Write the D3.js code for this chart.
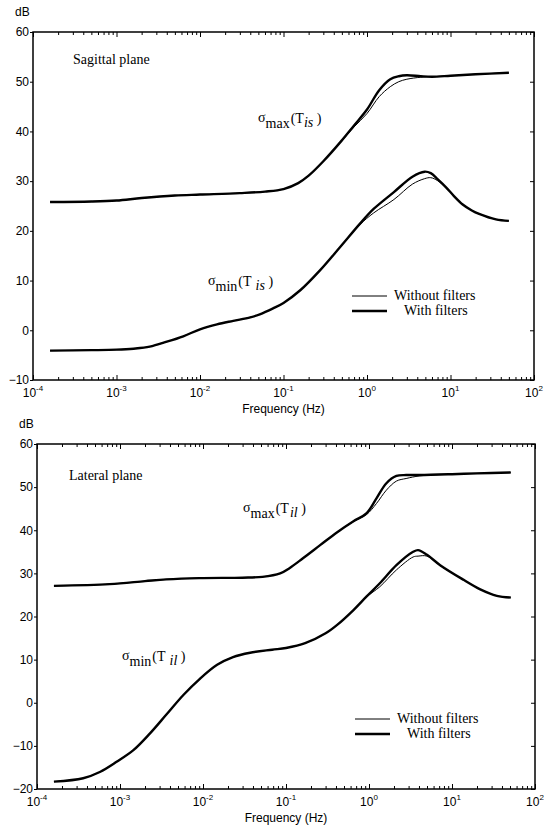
<!DOCTYPE html>
<html>
<head>
<meta charset="utf-8">
<script src="https://d3js.org/d3.v7.min.js"></script>
<style>
body { margin: 0; background: #fff; }
svg { display: block; }
.axis text { font-family: "Liberation Sans", Arial, sans-serif; font-size: 12px; fill: #000; }
.axis path { display: none; }
.axis line { stroke: #000; stroke-width: 1; }
.note { font-family: "Liberation Serif", "Times New Roman", serif; font-size: 14px; }
.sig { font-family: "Liberation Serif", "Times New Roman", serif; font-size: 14px; }
</style>
</head>
<body>
<svg width="544" height="832"></svg>
<script>
// axis values
var decades = [1e-4, 1e-3, 1e-2, 1e-1, 1, 10, 100];
var decadeExp = ["-4", "-3", "-2", "-1", "0", "1", "2"];
var dbTicksSag = [-10, 0, 10, 20, 30, 40, 50, 60];
var dbTicksLat = [-20, -10, 0, 10, 20, 30, 40, 50, 60];

// Sagittal plane, sigma max
var sagMaxFreq    = [1.6e-4, 5e-4, 1e-3, 2e-3, 5e-3, 1e-2, 3e-2, 6e-2, 0.1, 0.15, 0.2, 0.3, 0.5, 0.7, 1.0, 1.4, 1.9, 2.4, 3.0, 4.4, 6.0, 10, 20, 50];
var sagMaxWith    = [25.8, 25.9, 26.1, 26.6, 27.1, 27.3, 27.6, 27.9, 28.4, 29.6, 31.1, 34.0, 38.2, 41.2, 44.4, 48.3, 50.5, 51.1, 51.3, 51.1, 51.0, 51.2, 51.5, 51.8];
var sagMaxWithout = [25.8, 25.9, 26.1, 26.6, 27.1, 27.3, 27.6, 27.9, 28.4, 29.6, 31.1, 34.0, 38.1, 40.9, 43.6, 47.0, 49.0, 50.0, 50.5, 50.9, 51.0, 51.2, 51.5, 51.8];

// Sagittal plane, sigma min
var sagMinFreq    = [1.6e-4, 5e-4, 1e-3, 1.6e-3, 2.5e-3, 4e-3, 6.3e-3, 1e-2, 1.6e-2, 2.5e-2, 4e-2, 5.2e-2, 7.5e-2, 0.1, 0.16, 0.275, 0.48, 0.83, 1.2, 2.1, 3.5, 4.9, 5.8, 7.0, 8.9, 11, 14, 18, 22, 35, 50];
var sagMinWith    = [-4.1, -4.0, -3.9, -3.7, -3.3, -2.3, -1.2, 0.2, 1.2, 1.9, 2.6, 3.2, 4.4, 5.5, 8.1, 12.1, 16.8, 21.5, 24.4, 27.8, 30.9, 31.9, 31.6, 30.4, 28.7, 27.0, 25.3, 24.1, 23.4, 22.3, 22.0];
var sagMinWithout = [-4.1, -4.0, -3.9, -3.7, -3.3, -2.3, -1.2, 0.2, 1.2, 1.9, 2.6, 3.2, 4.4, 5.5, 8.1, 12.1, 16.8, 21.3, 23.6, 26.3, 29.4, 30.5, 30.7, 30.1, 28.6, 27.0, 25.3, 24.1, 23.4, 22.3, 22.0];

// Lateral plane, sigma max
var latMaxFreq    = [1.6e-4, 7.5e-4, 2e-3, 3.6e-3, 9e-3, 3e-2, 5.2e-2, 8.5e-2, 0.11, 0.16, 0.26, 0.41, 0.65, 0.93, 1.23, 1.62, 2.14, 2.8, 4.1, 10, 20, 51];
var latMaxWith    = [27.1, 27.5, 28.2, 28.6, 28.9, 29.0, 29.2, 30.0, 31.2, 33.5, 36.6, 39.5, 42.1, 43.9, 47.4, 50.9, 52.6, 52.8, 52.8, 53.0, 53.2, 53.4];
var latMaxWithout = [27.1, 27.5, 28.2, 28.6, 28.9, 29.0, 29.2, 30.0, 31.2, 33.5, 36.6, 39.5, 42.0, 43.6, 46.2, 49.3, 51.4, 52.0, 52.6, 53.0, 53.2, 53.4];

// Lateral plane, sigma min
var latMinFreq    = [1.6e-4, 3.6e-4, 5.8e-4, 9.1e-4, 1.45e-3, 2.3e-3, 3.6e-3, 5.8e-3, 9.1e-3, 1.48e-2, 2.3e-2, 3.7e-2, 6.8e-2, 0.1, 0.17, 0.3, 0.41, 0.65, 0.93, 1.35, 2.14, 3.4, 3.9, 5.0, 7.2, 13.8, 21.9, 34.7, 51];
var latMinWith    = [-18.3, -17.5, -16.0, -13.7, -11.0, -7.1, -2.8, 1.8, 5.5, 8.8, 10.6, 11.6, 12.3, 12.7, 13.8, 16.1, 18.0, 21.5, 24.6, 27.7, 31.9, 35.0, 35.4, 34.3, 31.9, 28.5, 26.3, 24.8, 24.4];
var latMinWithout = [-18.3, -17.5, -16.0, -13.7, -11.0, -7.1, -2.8, 1.8, 5.5, 8.8, 10.6, 11.6, 12.3, 12.7, 13.8, 16.1, 18.0, 21.4, 24.5, 26.9, 30.8, 33.8, 34.0, 34.0, 31.8, 28.5, 26.3, 24.8, 24.4];

var svg = d3.select("svg");

function panel(p) {
  var x = d3.scaleLog().domain([1e-4, 1e2]).range([p.left, p.right]);
  var y = d3.scaleLinear().domain(p.yDomain).range([p.bottom, p.top]);
  var g = svg.append("g");
  var minor = x.ticks().filter(function (d) { return decades.indexOf(d) < 0; });

  // bottom axis, ticks point inward
  g.append("g").attr("class", "axis").attr("transform", "translate(0," + p.bottom + ")")
    .call(d3.axisBottom(x).tickValues(decades).tickSize(-5).tickFormat(""));
  g.append("g").attr("class", "axis").attr("transform", "translate(0," + p.bottom + ")")
    .call(d3.axisBottom(x).tickValues(minor).tickSize(-3).tickFormat(""));
  // top axis
  g.append("g").attr("class", "axis").attr("transform", "translate(0," + p.top + ")")
    .call(d3.axisTop(x).tickValues(decades).tickSize(-5).tickFormat(""));
  g.append("g").attr("class", "axis").attr("transform", "translate(0," + p.top + ")")
    .call(d3.axisTop(x).tickValues(minor).tickSize(-3).tickFormat(""));
  // left axis with labels
  g.append("g").attr("class", "axis").attr("transform", "translate(" + p.left + ",0)")
    .call(d3.axisLeft(y).tickValues(p.yTicks).tickSize(3).tickPadding(1).tickFormat(d3.format("d")));
  // right axis
  g.append("g").attr("class", "axis").attr("transform", "translate(" + p.right + ",0)")
    .call(d3.axisRight(y).tickValues(p.yTicks).tickSize(-4).tickFormat(""));

  // decade labels 10^n
  decades.forEach(function (d, i) {
    var t = g.append("text").attr("x", x(d)).attr("y", p.bottom + 17)
      .attr("text-anchor", "middle")
      .style("font-family", "Liberation Sans, Arial, sans-serif").style("font-size", "12px");
    t.append("tspan").text("10");
    t.append("tspan").attr("dy", -6).style("font-size", "8px").text(decadeExp[i]);
  });

  g.append("text").attr("x", (p.left + p.right) / 2).attr("y", p.bottom + 33)
    .attr("text-anchor", "middle")
    .style("font-family", "Liberation Sans, Arial, sans-serif").style("font-size", "12px")
    .text("Frequency (Hz)");
  g.append("text").attr("x", p.left - 18).attr("y", p.top - 16)
    .style("font-family", "Liberation Sans, Arial, sans-serif").style("font-size", "12px")
    .text("dB");

  g.append("rect").attr("x", p.left).attr("y", p.top)
    .attr("width", p.right - p.left).attr("height", p.bottom - p.top)
    .attr("fill", "none").attr("stroke", "#000").attr("stroke-width", 1.5);

  var line = d3.line().curve(d3.curveCatmullRom.alpha(0.5))
    .x(function (d) { return x(d[0]); }).y(function (d) { return y(d[1]); });
  p.curves.forEach(function (c) {
    g.append("path").datum(d3.zip(c.f, c.without)).attr("d", line)
      .attr("fill", "none").attr("stroke", "#000").attr("stroke-width", 1);
    g.append("path").datum(d3.zip(c.f, c.with)).attr("d", line)
      .attr("fill", "none").attr("stroke", "#000").attr("stroke-width", 2.4);
  });

  g.append("text").attr("class", "note").attr("x", p.title[1]).attr("y", p.title[2]).text(p.title[0]);

  // sigma labels
  p.sigmas.forEach(function (s) {
    var t = g.append("text").attr("class", "sig").attr("x", s.x).attr("y", s.y);
    t.append("tspan").text("σ");
    t.append("tspan").attr("dy", 6).text(s.sub);
    t.append("tspan").attr("dy", -5).attr("dx", 1).text("(T");
    t.append("tspan").attr("dy", 4).attr("dx", s.gap).style("font-style", "italic").text(s.idx);
    t.append("tspan").attr("dy", -4).text(" )");
  });

  // legend
  var lg = p.legend;
  g.append("line").attr("x1", lg.x).attr("x2", lg.x + 35).attr("y1", lg.y).attr("y2", lg.y)
    .attr("stroke", "#000").attr("stroke-width", 1);
  g.append("line").attr("x1", lg.x).attr("x2", lg.x + 35).attr("y1", lg.y + 15).attr("y2", lg.y + 15)
    .attr("stroke", "#000").attr("stroke-width", 2.4);
  g.append("text").attr("class", "note").attr("x", lg.x + 42).attr("y", lg.y + 4).text("Without filters");
  g.append("text").attr("class", "note").attr("x", lg.x + 52).attr("y", lg.y + 19).text("With filters");
}

panel({
  left: 33, right: 534, top: 32, bottom: 380,
  yDomain: [-10, 60], yTicks: dbTicksSag,
  title: ["Sagittal plane", 73, 64],
  curves: [
    { f: sagMaxFreq, with: sagMaxWith, without: sagMaxWithout },
    { f: sagMinFreq, with: sagMinWith, without: sagMinWithout }
  ],
  sigmas: [
    { x: 258, y: 122, sub: "max", idx: "is", gap: 0 },
    { x: 208, y: 285, sub: "min", idx: "is", gap: 4 }
  ],
  legend: { x: 352, y: 296 }
});

panel({
  left: 37, right: 535, top: 444, bottom: 789,
  yDomain: [-20, 60], yTicks: dbTicksLat,
  title: ["Lateral plane", 69, 480],
  curves: [
    { f: latMaxFreq, with: latMaxWith, without: latMaxWithout },
    { f: latMinFreq, with: latMinWith, without: latMinWithout }
  ],
  sigmas: [
    { x: 243, y: 512, sub: "max", idx: "il", gap: 1 },
    { x: 122, y: 660, sub: "min", idx: "il", gap: 4 }
  ],
  legend: { x: 355, y: 719 }
});
</script>
</body>
</html>
